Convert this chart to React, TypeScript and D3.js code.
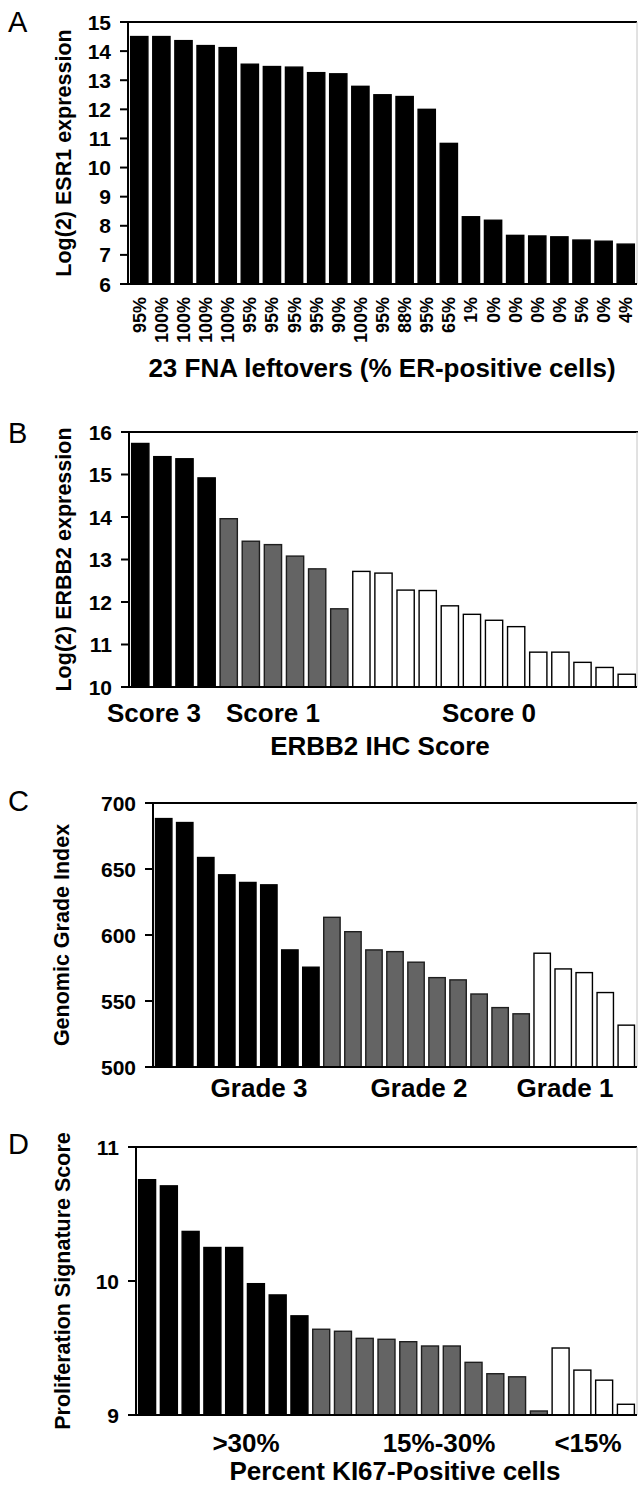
import React from "react";
import * as d3 from "d3";

// ---------- Data ----------
const esr1Labels = ["95%", "100%", "100%", "100%", "100%", "95%", "95%", "95%", "95%", "90%", "100%", "95%", "88%", "95%", "65%", "1%", "0%", "0%", "0%", "0%", "5%", "0%", "4%"];
const esr1Values = [14.5, 14.5, 14.36, 14.19, 14.12, 13.55, 13.47, 13.45, 13.26, 13.22, 12.79, 12.5, 12.44, 12.0, 10.83, 8.31, 8.19, 7.67, 7.65, 7.62, 7.51, 7.47, 7.37];
const esr1Groups = Array.from({ length: 23 }, () => 0);
const esr1Ticks = [6, 7, 8, 9, 10, 11, 12, 13, 14, 15];

const erbb2Values = [15.73, 15.42, 15.37, 14.92, 13.96, 13.43, 13.35, 13.08, 12.78, 11.84, 12.72, 12.68, 12.28, 12.27, 11.91, 11.71, 11.57, 11.42, 10.82, 10.82, 10.58, 10.46, 10.3];
const erbb2Groups = [0, 0, 0, 0, 1, 1, 1, 1, 1, 1, 2, 2, 2, 2, 2, 2, 2, 2, 2, 2, 2, 2, 2];
const erbb2GroupLabels = ["Score 3", "Score 1", "Score 0"];
const erbb2Ticks = [10, 11, 12, 13, 14, 15, 16];

const ggiValues = [688.2, 685.2, 658.7, 645.6, 639.8, 638.0, 588.7, 575.6, 613.4, 602.5, 588.7, 587.4, 579.4, 567.7, 566.0, 555.3, 545.0, 540.3, 586.2, 574.3, 571.5, 556.4, 531.7];
const ggiGroups = [0, 0, 0, 0, 0, 0, 0, 0, 1, 1, 1, 1, 1, 1, 1, 1, 1, 1, 2, 2, 2, 2, 2];
const ggiGroupLabels = ["Grade 3", "Grade 2", "Grade 1"];
const ggiTicks = [500, 550, 600, 650, 700];

const profValues = [10.756, 10.71, 10.37, 10.25, 10.25, 9.98, 9.896, 9.74, 9.64, 9.625, 9.572, 9.565, 9.547, 9.515, 9.515, 9.393, 9.308, 9.285, 9.03, 9.5, 9.335, 9.26, 9.08];
const profGroups = [0, 0, 0, 0, 0, 0, 0, 0, 1, 1, 1, 1, 1, 1, 1, 1, 1, 1, 1, 2, 2, 2, 2];
const profGroupLabels = [">30%", "15%-30%", "<15%"];
const profTicks = [9, 10, 11];

// ---------- Styling ----------
const FONT = "'Liberation Sans', Arial, Helvetica, sans-serif";
const FILLS = ["#000000", "#646464", "#ffffff"];
const STROKES = ["#000000", "#1e1e1e", "#000000"];

type PanelDef = {
  letter: string;
  letterY: number;
  left: number;
  right: number;
  top: number;
  bottom: number;
  domain: [number, number];
  ticks: number[];
  values: number[];
  groups: number[];
  yTitle: string;
  yTitleX: number;
  groupLabels?: string[];
  groupLabelX?: number[];
  groupLabelY?: number;
  xTitle?: string;
  xTitleX?: number;
  xTitleY?: number;
  catLabels?: string[];
};

const panels: PanelDef[] = [
  {
    letter: "A", letterY: 32, left: 128, right: 637, top: 22, bottom: 284,
    domain: [6, 15], ticks: esr1Ticks, values: esr1Values, groups: esr1Groups,
    yTitle: "Log(2) ESR1 expression", yTitleX: 63,
    catLabels: esr1Labels,
    xTitle: "23 FNA leftovers (% ER-positive cells)", xTitleX: 382, xTitleY: 377,
  },
  {
    letter: "B", letterY: 443, left: 129, right: 638, top: 432, bottom: 687,
    domain: [10, 16], ticks: erbb2Ticks, values: erbb2Values, groups: erbb2Groups,
    yTitle: "Log(2) ERBB2 expression", yTitleX: 63,
    groupLabels: erbb2GroupLabels, groupLabelX: [154, 273, 489], groupLabelY: 722,
    xTitle: "ERBB2 IHC Score", xTitleX: 380, xTitleY: 755,
  },
  {
    letter: "C", letterY: 811, left: 153, right: 637, top: 803, bottom: 1067,
    domain: [500, 700], ticks: ggiTicks, values: ggiValues, groups: ggiGroups,
    yTitle: "Genomic Grade Index", yTitleX: 61,
    groupLabels: ggiGroupLabels, groupLabelX: [259, 419, 565], groupLabelY: 1097,
  },
  {
    letter: "D", letterY: 1154, left: 136, right: 637, top: 1147, bottom: 1415,
    domain: [9, 11], ticks: profTicks, values: profValues, groups: profGroups,
    yTitle: "Proliferation Signature Score", yTitleX: 62,
    groupLabels: profGroupLabels, groupLabelX: [246, 439, 588], groupLabelY: 1452,
    xTitle: "Percent KI67-Positive cells", xTitleX: 395, xTitleY: 1480,
  },
];

function Panel({ p }: { p: PanelDef }) {
  const idx = p.values.map((_, i) => String(i));
  const x = d3.scaleBand<string>().domain(idx).range([p.left, p.right]).paddingInner(0.22).paddingOuter(0.12);
  const y = d3.scaleLinear().domain(p.domain).range([p.bottom, p.top]);
  const tickLen = 8;
  return (
    <g>
      <text x={8} y={p.letterY} fontFamily={FONT} fontSize={29} fill="#000">{p.letter}</text>
      {/* bars */}
      {p.values.map((v, i) => (
        <rect
          key={i}
          x={x(String(i))}
          y={y(v)}
          width={x.bandwidth()}
          height={y(p.domain[0]) - y(v)}
          fill={FILLS[p.groups[i]]}
          stroke={STROKES[p.groups[i]]}
          strokeWidth={1.4}
        />
      ))}
      {/* frame */}
      <line x1={p.left} x2={p.right} y1={p.top} y2={p.top} stroke="#000" strokeWidth={2} />
      <line x1={637} x2={637} y1={p.top} y2={p.bottom} stroke="#c4c4c4" strokeWidth={1} />
      <line x1={p.left} x2={p.left} y1={p.top - 1} y2={p.bottom} stroke="#000" strokeWidth={2} />
      <line x1={p.left - tickLen} x2={637} y1={p.bottom} y2={p.bottom} stroke="#000" strokeWidth={2} />
      {/* y ticks */}
      {p.ticks.map((t) => (
        <g key={t}>
          <line x1={p.left - tickLen} x2={p.left} y1={y(t)} y2={y(t)} stroke="#000" strokeWidth={2} />
          <text
            x={p.left - tickLen - 9}
            y={y(t)}
            dy="0.36em"
            textAnchor="end"
            fontFamily={FONT}
            fontWeight="bold"
            fontSize={21}
            fill="#000"
          >
            {t}
          </text>
        </g>
      ))}
      {/* y title */}
      <text
        transform={`translate(${p.yTitleX},${(p.top + p.bottom) / 2}) rotate(-90)`}
        textAnchor="middle"
        dy="0.36em"
        fontFamily={FONT}
        fontWeight="bold"
        fontSize={21.5}
        fill="#000"
      >
        {p.yTitle}
      </text>
      {/* category labels */}
      {p.catLabels &&
        p.catLabels.map((l, i) => (
          <text
            key={i}
            transform={`translate(${(x(String(i)) as number) + x.bandwidth() / 2},${p.bottom + 13}) rotate(-90)`}
            textAnchor="end"
            dy="0.36em"
            fontFamily={FONT}
            fontWeight="bold"
            fontSize={18}
            fill="#000"
          >
            {l}
          </text>
        ))}
      {/* group labels */}
      {p.groupLabels &&
        p.groupLabels.map((l, i) => (
          <text
            key={l}
            x={p.groupLabelX![i]}
            y={p.groupLabelY}
            textAnchor="middle"
            fontFamily={FONT}
            fontWeight="bold"
            fontSize={26}
            fill="#000"
          >
            {l}
          </text>
        ))}
      {p.xTitle && (
        <text
          x={p.xTitleX}
          y={p.xTitleY}
          textAnchor="middle"
          fontFamily={FONT}
          fontWeight="bold"
          fontSize={26}
          fill="#000"
        >
          {p.xTitle}
        </text>
      )}
    </g>
  );
}

export default function App() {
  return (
    <svg
      width={638}
      height={1487}
      viewBox="0 0 638 1487"
      style={{ position: "absolute", left: 0, top: 0, background: "#fff" }}
    >
      <rect x={0} y={0} width={638} height={1487} fill="#fff" />
      {panels.map((p) => (
        <Panel key={p.letter} p={p} />
      ))}
    </svg>
  );
}
